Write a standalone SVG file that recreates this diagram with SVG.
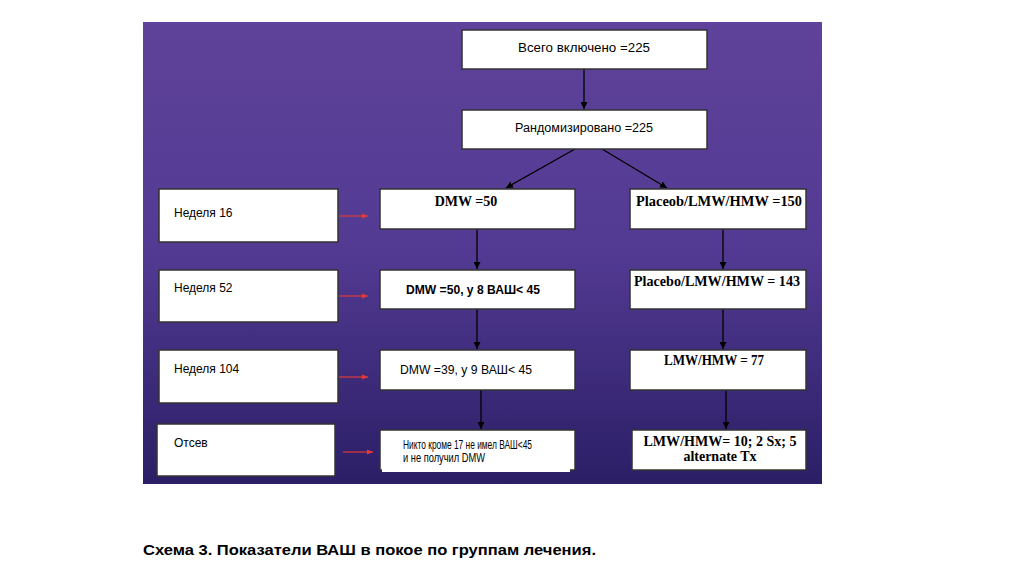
<svg xmlns="http://www.w3.org/2000/svg" width="1034" height="572" viewBox="0 0 1034 572">
<defs>
<linearGradient id="bg" x1="0" y1="0" x2="0" y2="1">
<stop offset="0" stop-color="#5f429a"/>
<stop offset="0.5" stop-color="#523a92"/>
<stop offset="1" stop-color="#2b1e66"/>
</linearGradient>
<marker id="ab" viewBox="0 0 10 10" refX="10" refY="5" markerWidth="7" markerHeight="7" orient="auto" markerUnits="userSpaceOnUse"><path d="M0,0 L10,5 L0,10 z" fill="#000"/></marker>
<marker id="ar" viewBox="0 0 10 10" refX="10" refY="5" markerWidth="6" markerHeight="6" orient="auto" markerUnits="userSpaceOnUse"><path d="M0,1 L10,5 L0,9 z" fill="#e03a3a"/></marker>
<style>
.box{fill:#fff;stroke:#333;stroke-width:1.5}
.s{font-family:"Liberation Sans",Arial,sans-serif;font-size:12px;fill:#000}
.l{font-family:"Liberation Sans",Arial,sans-serif;font-size:12px;fill:#000}
.t{font-family:"Liberation Serif","Times New Roman",serif;font-size:14px;font-weight:bold;fill:#000}
.k{stroke:#000;stroke-width:1.3;fill:none}
.r{stroke:#e03a3a;stroke-width:1.2;fill:none}
</style>
</defs>
<rect x="0" y="0" width="1034" height="572" fill="#fff"/>
<rect x="143" y="22" width="679" height="462" fill="url(#bg)"/>
<g id="connectors">
<line class="k" x1="584" y1="69" x2="584" y2="109" marker-end="url(#ab)"/>
<line class="k" x1="575" y1="149" x2="506" y2="188" marker-end="url(#ab)"/>
<line class="k" x1="602" y1="149" x2="667" y2="188" marker-end="url(#ab)"/>
<line class="k" x1="477" y1="229" x2="477" y2="269" marker-end="url(#ab)"/>
<line class="k" x1="723" y1="229" x2="723" y2="269" marker-end="url(#ab)"/>
<line class="k" x1="477" y1="309" x2="477" y2="349" marker-end="url(#ab)"/>
<line class="k" x1="723" y1="309" x2="723" y2="349" marker-end="url(#ab)"/>
<line class="k" x1="481" y1="390" x2="481" y2="429" marker-end="url(#ab)"/>
<line class="k" x1="726" y1="390" x2="726" y2="429" marker-end="url(#ab)"/>
<line class="r" x1="339" y1="216" x2="368" y2="216" marker-end="url(#ar)"/>
<line class="r" x1="339" y1="296" x2="368" y2="296" marker-end="url(#ar)"/>
<line class="r" x1="339" y1="377" x2="368" y2="377" marker-end="url(#ar)"/>
<line class="r" x1="343" y1="452" x2="373" y2="452" marker-end="url(#ar)"/>
</g>
<g id="n-total"><rect class="box" x="462" y="30" width="245" height="39"/><text class="s" x="584" y="52" text-anchor="middle" textLength="132" lengthAdjust="spacingAndGlyphs">Всего включено =225</text></g>
<g id="n-random"><rect class="box" x="462" y="110" width="245" height="39"/><text class="s" x="584" y="132" text-anchor="middle" textLength="138" lengthAdjust="spacingAndGlyphs">Рандомизировано =225</text></g>
<g id="n-w16"><rect class="box" x="159" y="189" width="179" height="53"/><text class="l" x="174" y="217">Неделя 16</text></g>
<g id="n-w52"><rect class="box" x="159" y="270" width="179" height="52"/><text class="l" x="174" y="292">Неделя 52</text></g>
<g id="n-w104"><rect class="box" x="159" y="350" width="179" height="53"/><text class="l" x="174" y="373">Неделя 104</text></g>
<g id="n-drop"><rect class="box" x="157" y="424" width="178" height="52"/><text class="l" x="174" y="447">Отсев</text></g>
<g id="n-dmw50"><rect class="box" x="380" y="189" width="195" height="40"/><text class="t" x="466" y="206" text-anchor="middle">DMW =50</text></g>
<g id="n-pl150"><rect class="box" x="630" y="189" width="176" height="40"/><text class="t" x="719" y="206" text-anchor="middle" textLength="166" lengthAdjust="spacingAndGlyphs">Placeob/LMW/HMW =150</text></g>
<g id="n-dmw50b"><rect class="box" x="380" y="270" width="195" height="39"/><text class="s" x="473" y="294" text-anchor="middle" font-weight="bold" font-size="13" textLength="134" lengthAdjust="spacingAndGlyphs">DMW =50, у 8 ВАШ&lt; 45</text></g>
<g id="n-pl143"><rect class="box" x="630" y="270" width="176" height="39"/><text class="t" x="717" y="286" text-anchor="middle" textLength="166" lengthAdjust="spacingAndGlyphs">Placebo/LMW/HMW = 143</text></g>
<g id="n-dmw39"><rect class="box" x="380" y="350" width="195" height="40"/><text class="s" x="466" y="374" text-anchor="middle" font-size="13" textLength="132" lengthAdjust="spacingAndGlyphs">DMW =39, у 9 ВАШ&lt; 45</text></g>
<g id="n-lmw77"><rect class="box" x="630" y="350" width="176" height="40"/><text class="t" x="714" y="365" text-anchor="middle" textLength="100" lengthAdjust="spacingAndGlyphs">LMW/HMW = 77</text></g>
<g id="n-none"><rect class="box" x="380" y="430" width="195" height="40"/><rect x="382" y="432" width="188" height="40" fill="#fff"/><text class="l" x="403" y="449" font-size="9" textLength="129" lengthAdjust="spacingAndGlyphs">Никто кроме 17 не имел ВАШ&lt;45</text><text class="l" x="403" y="462" font-size="9" textLength="82" lengthAdjust="spacingAndGlyphs">и не получил DMW</text></g>
<g id="n-lmw10"><rect class="box" x="632" y="430" width="174" height="40"/><text class="t" x="720" y="446" text-anchor="middle" textLength="153" lengthAdjust="spacingAndGlyphs">LMW/HMW= 10; 2 Sx; 5</text><text class="t" x="720" y="461" text-anchor="middle">alternate Tx</text></g>
<text x="143" y="555" font-family="'Liberation Sans',Arial,sans-serif" font-size="15" font-weight="bold" fill="#000" textLength="453" lengthAdjust="spacingAndGlyphs">Схема 3. Показатели ВАШ в покое по группам лечения.</text>
</svg>
